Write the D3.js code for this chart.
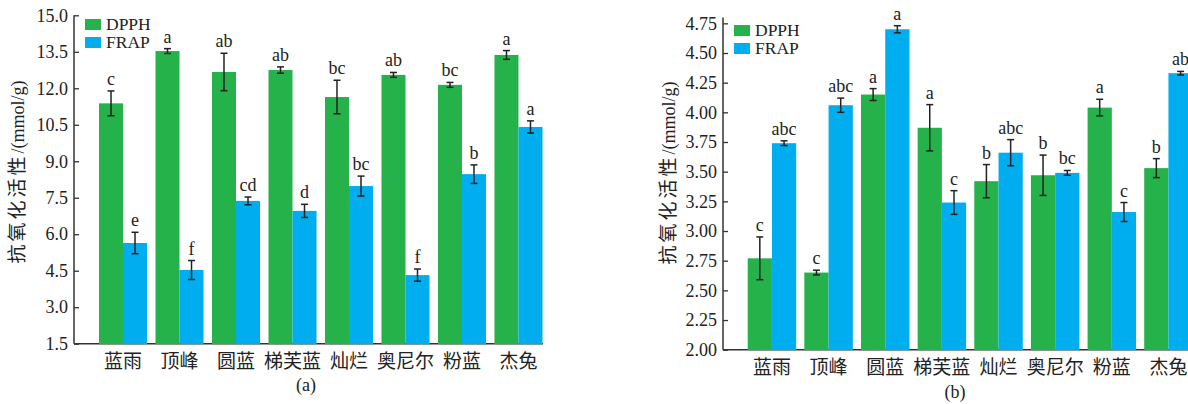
<!DOCTYPE html>
<html>
<head>
<meta charset="utf-8">
<script src="https://cdn.jsdelivr.net/npm/d3@7"></script>
<style>
  body { margin: 0; background: #fff; }
  svg text { font-family: "Liberation Serif", "Noto Sans CJK SC", serif; fill: #222; }
</style>
</head>
<body>
<svg id="canvas"></svg>
<script>
// Categories and series
const categories = ["蓝雨", "顶峰", "圆蓝", "梯芙蓝", "灿烂", "奥尼尔", "粉蓝", "杰兔"];
const seriesNames = ["DPPH", "FRAP"];

// Panel (a) values
const dpphA = [11.38, 13.53, 12.67, 12.75, 11.64, 12.55, 12.14, 13.37];
const dpphAErr = [0.51, 0.10, 0.77, 0.13, 0.69, 0.10, 0.10, 0.18];
const dpphALetters = ["c", "a", "ab", "ab", "bc", "ab", "bc", "a"];
const frapA = [5.64, 4.53, 7.37, 6.96, 7.98, 4.32, 8.47, 10.41];
const frapAErr = [0.44, 0.39, 0.16, 0.27, 0.41, 0.25, 0.38, 0.25];
const frapALetters = ["e", "f", "cd", "d", "bc", "f", "b", "a"];
const ticksA = [1.5, 3.0, 4.5, 6.0, 7.5, 9.0, 10.5, 12.0, 13.5, 15.0];

// Panel (b) values
const dpphB = [2.77, 2.65, 4.15, 3.87, 3.42, 3.47, 4.04, 3.53];
const dpphBErr = [0.18, 0.02, 0.05, 0.195, 0.14, 0.17, 0.07, 0.08];
const dpphBLetters = ["c", "c", "a", "a", "b", "b", "a", "b"];
const frapB = [3.74, 4.06, 4.70, 3.24, 3.66, 3.49, 3.16, 4.33];
const frapBErr = [0.02, 0.06, 0.03, 0.10, 0.11, 0.02, 0.08, 0.015];
const frapBLetters = ["abc", "abc", "a", "c", "abc", "bc", "c", "ab"];
const ticksB = [2.00, 2.25, 2.50, 2.75, 3.00, 3.25, 3.50, 3.75, 4.00, 4.25, 4.50, 4.75];

const colors = { DPPH: "#25b24b", FRAP: "#00adee" };
const yLabel = "抗氧化活性/(mmol/g)";
const serif = "'Liberation Serif', 'Noto Sans CJK SC', serif";
const cjk = "'Noto Sans CJK SC', sans-serif";

const svg = d3.select("#canvas").attr("width", 1188).attr("height", 404);

// Draw one grouped bar panel
const drawPanel = (p) => {
   const g = svg.append("g");

   const y = d3.scaleLinear().domain(p.yDomain).range(p.yRange);
   const x = d3.scaleBand().domain(categories).range(p.xRange).paddingInner(p.pad).paddingOuter(0);
   const xs = d3.scaleBand().domain(seriesNames).range([0, x.bandwidth()]);

   // y axis, ticks pointing inward
   const yAxis = d3.axisLeft(y).tickValues(p.ticks).tickFormat(d3.format(p.fmt))
                   .tickSizeInner(-5).tickSizeOuter(0).tickPadding(6);
   const gy = g.append("g").attr("transform", `translate(${p.axisX},0)`).call(yAxis)
               .attr("font-family", null).attr("font-size", null);
   gy.select(".domain").remove();
   gy.selectAll(".tick line").attr("stroke", "#333").attr("stroke-width", 1.3);
   gy.selectAll(".tick text").style("font-family", serif).style("font-size", p.tickFont + "px").attr("fill", "#222");
   g.append("line").attr("x1", p.axisX).attr("x2", p.axisX)
    .attr("y1", y(p.yDomain[1])).attr("y2", y(p.yDomain[0]))
    .attr("stroke", "#333").attr("stroke-width", 1.5);
   g.append("line").attr("x1", p.axisX).attr("x2", p.xEnd)
    .attr("y1", y(p.yDomain[0])).attr("y2", y(p.yDomain[0]))
    .attr("stroke", "#333").attr("stroke-width", 1.5);

   const rows = [];
   categories.forEach((c, i) => {
      rows.push({ cat: c, s: "DPPH", v: p.dpph[i], e: p.dpphErr[i], l: p.dpphLetters[i] });
      rows.push({ cat: c, s: "FRAP", v: p.frap[i], e: p.frapErr[i], l: p.frapLetters[i] });
   });
   const bx = (d) => x(d.cat) + xs(d.s);
   const cx = (d) => bx(d) + xs.bandwidth() / 2;

   // bars
   g.selectAll("rect.bar").data(rows).enter().append("rect")
    .attr("class", "bar")
    .attr("x", bx)
    .attr("width", xs.bandwidth())
    .attr("y", (d) => y(d.v))
    .attr("height", (d) => y(p.yDomain[0]) - y(d.v) + 0.5)
    .attr("fill", (d) => colors[d.s]);

   // error bars
   const eb = g.selectAll("g.err").data(rows).enter().append("g").attr("class", "err")
               .attr("stroke", "#222").attr("stroke-width", 1.5);
   eb.append("line").attr("x1", cx).attr("x2", cx)
     .attr("y1", (d) => y(d.v + d.e)).attr("y2", (d) => y(d.v - d.e));
   eb.append("line").attr("x1", (d) => cx(d) - 3.5).attr("x2", (d) => cx(d) + 3.5)
     .attr("y1", (d) => y(d.v + d.e)).attr("y2", (d) => y(d.v + d.e));
   eb.append("line").attr("x1", (d) => cx(d) - 3.5).attr("x2", (d) => cx(d) + 3.5)
     .attr("y1", (d) => y(d.v - d.e)).attr("y2", (d) => y(d.v - d.e));

   // significance letters
   g.selectAll("text.sig").data(rows).enter().append("text")
    .attr("class", "sig")
    .attr("x", cx)
    .attr("y", (d) => y(d.v + d.e) - 6)
    .attr("text-anchor", "middle")
    .style("font-family", serif)
    .style("font-size", "18px")
    .text((d) => d.l);

   // category labels
   g.selectAll("text.cat").data(categories).enter().append("text")
    .attr("class", "cat")
    .attr("x", (d) => x(d) + x.bandwidth() / 2)
    .attr("y", p.catY)
    .attr("text-anchor", "middle")
    .style("font-family", cjk)
    .style("font-size", "19px")
    .text((d) => d);

   // panel tag
   g.append("text").attr("x", p.tagX).attr("y", p.tagY).attr("text-anchor", "middle")
    .style("font-family", serif).style("font-size", "18px").text(p.tag);

   // y axis title
   const t = g.append("text")
              .attr("transform", `translate(${p.titleX},${p.titleY}) rotate(-90)`)
              .attr("text-anchor", "middle");
   t.append("tspan").style("font-family", cjk).style("font-size", "19px")
    .style("letter-spacing", "3px").text(yLabel.slice(0, 5));
   t.append("tspan").style("font-family", serif).style("font-size", "18px").text(yLabel.slice(5));

   // legend
   seriesNames.forEach((s, i) => {
      g.append("rect").attr("x", p.legX).attr("y", p.legY + i * p.legStep)
       .attr("width", 16).attr("height", 11).attr("fill", colors[s]);
      g.append("text").attr("x", p.legX + 21).attr("y", p.legY + i * p.legStep + 11)
       .style("font-family", serif).style("font-size", "17.5px").text(s);
   });
};

drawPanel({
   yDomain: [1.5, 15], yRange: [343.7, 15.3], ticks: ticksA, fmt: ".1f", tickFont: 18,
   axisX: 74, xEnd: 543, xRange: [99, 542.5], pad: 0.15,
   dpph: dpphA, dpphErr: dpphAErr, dpphLetters: dpphALetters,
   frap: frapA, frapErr: frapAErr, frapLetters: frapALetters,
   catY: 368, tag: "(a)", tagX: 306, tagY: 391,
   titleX: 24, titleY: 172,
   legX: 85, legY: 19, legStep: 18
});

drawPanel({
   yDomain: [2, 4.8], yRange: [349.7, 17.4], ticks: ticksB, fmt: ".2f", tickFont: 18,
   axisX: 723, xEnd: 1188, xRange: [747.7, 1192.7], pad: 0.144,
   dpph: dpphB, dpphErr: dpphBErr, dpphLetters: dpphBLetters,
   frap: frapB, frapErr: frapBErr, frapLetters: frapBLetters,
   catY: 374, tag: "(b)", tagX: 955, tagY: 398,
   titleX: 675, titleY: 173,
   legX: 734, legY: 25, legStep: 18
});
</script>
</body>
</html>
